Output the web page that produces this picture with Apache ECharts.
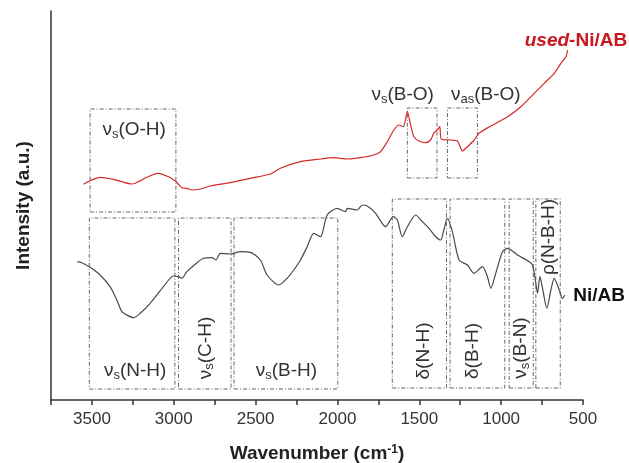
<!DOCTYPE html>
<html>
<head>
<meta charset="utf-8">
<script src="https://cdn.jsdelivr.net/npm/echarts@6/dist/echarts.min.js"></script>
<style>
html, body { margin: 0; padding: 0; background: #fff; }
#chart { width: 629px; height: 463px; }
</style>
</head>
<body>
<div id="chart"></div>
<script>
// used-Ni/AB 光谱 (波数 cm-1 / 强度 a.u.)
const usedWave = [3552, 3511, 3450, 3369, 3256, 3164, 3099, 3032, 2985, 2950, 2919, 2889, 2838, 2777, 2655, 2532, 2410, 2349, 2226, 2104, 2022, 1940, 1859, 1778, 1737, 1696, 1655, 1625, 1598, 1573, 1553, 1533, 1502, 1461, 1431, 1410, 1390, 1375, 1365, 1308, 1267, 1236, 1206, 1165, 1135, 1063, 961, 880, 798, 737, 676, 635, 604, 594];
const usedInt  = [215.7, 219.3, 222.7, 220.7, 216, 222.7, 226.7, 223.3, 218.3, 212.3, 211.7, 210, 211, 214, 217.3, 221.7, 226, 231.7, 238.3, 241, 242.3, 241, 242.3, 245, 248.3, 258.3, 270, 275, 273.3, 288.3, 275, 263.3, 259, 257.3, 260, 267.3, 270, 273.3, 260.7, 260, 259, 249, 253.3, 260, 266.7, 274, 283.3, 293.3, 306.7, 316.7, 326.7, 336.7, 343.3, 350];

// Ni/AB 光谱
const freshWave = [3589, 3562, 3511, 3450, 3389, 3348, 3317, 3287, 3246, 3205, 3144, 3063, 3002, 2971, 2950, 2920, 2858, 2818, 2767, 2742, 2716, 2655, 2593, 2532, 2471, 2430, 2359, 2307, 2267, 2226, 2185, 2145, 2104, 2063, 2002, 1951, 1940, 1879, 1848, 1818, 1767, 1706, 1659, 1634, 1604, 1573, 1522, 1481, 1441, 1400, 1369, 1353, 1328, 1298, 1257, 1206, 1166, 1114, 1084, 1063, 1033, 992, 961, 900, 829, 808, 788, 778, 763, 747, 721, 696, 676, 645, 625, 610];
const freshInt  = [138.3, 137.3, 132.7, 125, 113.3, 100, 88.3, 85, 82.3, 86.7, 96.7, 113.3, 124, 123.3, 121.7, 128.3, 137.3, 141.7, 142.3, 140, 146.7, 146, 148.3, 147.7, 140, 125, 115, 121.7, 130, 140, 153.3, 166.7, 163.3, 185, 191.7, 188.3, 191.7, 190, 195, 194, 186.7, 173.3, 183.3, 180, 163.3, 173.3, 185, 178.3, 171.7, 163.3, 160, 168.3, 181.7, 168.3, 140, 135, 126.7, 133.3, 123.3, 111.7, 126.7, 148.3, 151.7, 145, 138.3, 135, 116.7, 106.7, 123.3, 111.7, 91.7, 110, 121.7, 110, 101.7, 105];

// 谱带区域 [波数起, 波数止, 强度下, 强度上]
const bandBoxes = [
  [3511, 2987, 188, 291],   // νs(O-H)
  [1573, 1392, 222, 292],   // νs(B-O)
  [1328, 1145, 222, 292],   // νas(B-O)
  [3516, 2993, 11, 182],    // νs(N-H)
  [2971, 2650, 11, 182],    // νs(C-H)
  [2632, 1998, 11, 182],    // νs(B-H)
  [1665, 1334, 12, 201],    // δ(N-H)
  [1312, 978, 12, 201],     // δ(B-H)
  [951, 804, 12, 201],      // νs(B-N)
  [788, 639, 12, 201]       // ρ(N-B-H)
];

// 谱带标注：文字, 锚点波数, 锚点强度, 是否竖排
const bandLabels = [
  ['{t|ν}{s|s}{t|(O-H)}', 3242, 270, false],
  ['{t|ν}{s|s}{t|(B-O)}', 1602, 305, false],
  ['{t|ν}{s|as}{t|(B-O)}', 1094, 305, false],
  ['{t|ν}{s|s}{t|(N-H)}', 3236, 29, false],
  ['{t|ν}{s|s}{t|(C-H)}', 2807, 52, true],
  ['{t|ν}{s|s}{t|(B-H)}', 2312, 29, false],
  ['{t|δ(N-H)}', 1473, 49, true],
  ['{t|δ(B-H)}', 1173, 49, true],
  ['{t|ν}{s|s}{t|(B-N)}', 880, 52, true],
  ['{t|ρ(N-B-H)}', 708, 163, true]
];

// 曲线名称
const seriesNames = ['used-Ni/AB', 'Ni/AB'];
const seriesTags = [
  ['{i|used}{b|-Ni/AB}', 543, 359, '#c8171f'],
  ['{b|Ni/AB}', 402, 104, '#111']
];

const FONT = '"Liberation Sans", Arial, Helvetica, sans-serif';

const chart = echarts.init(document.getElementById('chart'), null, { renderer: 'canvas' });

const boxArea = bandBoxes.map(b => [
  { xAxis: b[0], yAxis: b[2] },
  { xAxis: b[1], yAxis: b[3] }
]);

const option = {
  animation: false,
  backgroundColor: '#fff',
  grid: { left: 51, right: 46, top: 11, bottom: 63, outerBoundsMode: 'none' },
  xAxis: {
    type: 'value',
    inverse: true,
    min: 500,
    max: 3750,
    interval: 250,
    name: '{b|Wavenumber (cm}{sup|-1}{b|)}',
    nameLocation: 'middle',
    nameGap: 44,
    nameTextStyle: {
      rich: {
        b: { fontFamily: FONT, fontWeight: 'bold', fontSize: 19, color: '#222' },
        sup: { fontFamily: FONT, fontWeight: 'bold', fontSize: 12, color: '#222', verticalAlign: 'top' }
      }
    },
    axisLine: { lineStyle: { color: '#333', width: 1.5 } },
    axisTick: { length: 5, lineStyle: { color: '#333', width: 1.5 } },
    axisLabel: {
      formatter: v => (v % 500 === 0 ? String(v) : ''),
      fontFamily: FONT,
      fontSize: 17,
      color: '#333',
      margin: 11
    },
    splitLine: { show: false }
  },
  yAxis: {
    type: 'value',
    min: 0,
    max: 389,
    name: 'Intensity (a.u.)',
    nameLocation: 'middle',
    nameRotate: 90,
    nameGap: 18,
    nameTextStyle: { fontFamily: FONT, fontWeight: 'bold', fontSize: 19, color: '#222' },
    axisLine: { show: true, lineStyle: { color: '#333', width: 1.5 } },
    axisTick: { show: false },
    axisLabel: { show: false },
    splitLine: { show: false }
  },
  series: [
    {
      name: seriesNames[0],
      type: 'line',
      data: usedWave.map((w, i) => [w, usedInt[i]]),
      symbol: 'none',
      smooth: 0.25,
      lineStyle: { color: '#d42a2a', width: 1.2 },
      z: 3
    },
    {
      name: seriesNames[1],
      type: 'line',
      data: freshWave.map((w, i) => [w, freshInt[i]]),
      symbol: 'none',
      smooth: 0.25,
      lineStyle: { color: '#4a4a4a', width: 1.2 },
      z: 3,
      markArea: {
        silent: true,
        itemStyle: {
          color: 'rgba(0,0,0,0)',
          borderColor: '#666',
          borderWidth: 1,
          borderType: [4, 2, 1, 2]
        },
        data: boxArea
      }
    }
  ]
};

chart.setOption(option);

// 标注文字放到数据坐标上
const graphics = [];
bandLabels.forEach(l => {
  const p = chart.convertToPixel({ gridIndex: 0 }, [l[1], l[2]]);
  graphics.push({
    type: 'text',
    x: p[0],
    y: p[1],
    rotation: l[3] ? Math.PI / 2 : 0,
    silent: true,
    style: {
      text: l[0],
      align: 'center',
      verticalAlign: 'middle',
      rich: {
        t: { fontFamily: FONT, fontSize: 19, fill: '#333', color: '#333' },
        s: { fontFamily: FONT, fontSize: 13, fill: '#333', color: '#333', verticalAlign: 'bottom', padding: [9, 0, 0, 0] }
      }
    }
  });
});
seriesTags.forEach(t => {
  const p = chart.convertToPixel({ gridIndex: 0 }, [t[1], t[2]]);
  graphics.push({
    type: 'text',
    x: p[0],
    y: p[1],
    silent: true,
    style: {
      text: t[0],
      align: 'center',
      verticalAlign: 'middle',
      rich: {
        i: { fontFamily: FONT, fontSize: 19, fontWeight: 'bold', fontStyle: 'italic', fill: t[3], color: t[3] },
        b: { fontFamily: FONT, fontSize: 19, fontWeight: 'bold', fill: t[3], color: t[3] }
      }
    }
  });
});
chart.setOption({ graphic: { elements: graphics } });
</script>
</body>
</html>
